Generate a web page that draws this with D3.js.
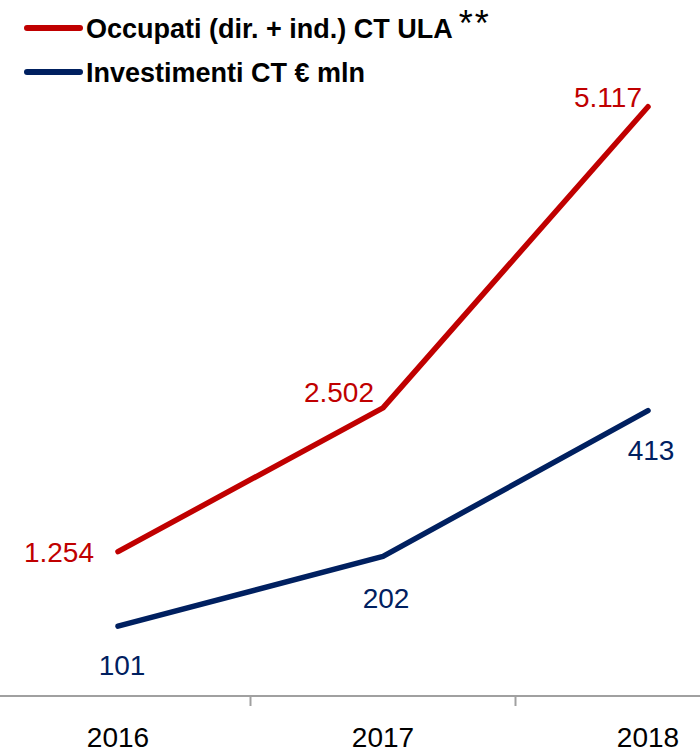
<!DOCTYPE html>
<html>
<head>
<meta charset="utf-8">
<script src="https://cdn.jsdelivr.net/npm/d3@7"></script>
<style>
  html, body { margin: 0; padding: 0; background: #fff; }
  svg { display: block; font-family: "Liberation Sans", Arial, sans-serif; }
</style>
</head>
<body>
<svg id="chart" width="700" height="755"></svg>
<script>
// ---- data ----
const years = ["2016", "2017", "2018"];
const occupati = [1254, 2502, 5117];      // Occupati (dir. + ind.) CT ULA
const investimenti = [101, 202, 413];     // Investimenti CT € mln
const seriesNames = ["Occupati (dir. + ind.) CT ULA", "Investimenti CT € mln"];
const seriesColors = ["#C00000", "#002060"];

const svg = d3.select("#chart");
const W = 700, H = 755;
const axisY = 696, plotTop = 5;

const it = d3.formatLocale({ decimal: ",", thousands: ".", grouping: [3], currency: ["€", ""] });
const fmt = it.format(",d");

const x = d3.scaleBand().domain(years).range([-14.5, 780.5]).paddingInner(0).paddingOuter(0);
const cx = d => x(d) + x.bandwidth() / 2;
const yRed = d3.scaleLinear().domain([0, 6000]).range([axisY, plotTop]);
const yBlue = d3.scaleLinear().domain([0, 1000]).range([axisY, plotTop]);

// ---- axis ----
svg.append("line").attr("x1", 0).attr("x2", W).attr("y1", axisY).attr("y2", axisY)
  .attr("stroke", "#A0A0A0").attr("stroke-width", 2);
svg.selectAll("line.tick").data(years.slice(1)).enter().append("line")
  .attr("class", "tick")
  .attr("x1", d => x(d)).attr("x2", d => x(d))
  .attr("y1", axisY).attr("y2", axisY + 10)
  .attr("stroke", "#A0A0A0").attr("stroke-width", 2);
svg.selectAll("text.year").data(years).enter().append("text")
  .attr("class", "year")
  .attr("x", d => cx(d)).attr("y", 747)
  .attr("text-anchor", "middle").attr("font-size", 28).attr("fill", "#000")
  .text(d => d);

// ---- lines ----
const redData = years.map((d, i) => ({ year: d, v: occupati[i] }));
const blueData = years.map((d, i) => ({ year: d, v: investimenti[i] }));

svg.append("path").datum(redData)
  .attr("d", d3.line().x(d => cx(d.year)).y(d => yRed(d.v)))
  .attr("fill", "none").attr("stroke", seriesColors[0]).attr("stroke-width", 5.5)
  .attr("stroke-linecap", "round").attr("stroke-linejoin", "round");
svg.append("path").datum(blueData)
  .attr("d", d3.line().x(d => cx(d.year)).y(d => yBlue(d.v)))
  .attr("fill", "none").attr("stroke", seriesColors[1]).attr("stroke-width", 5.5)
  .attr("stroke-linecap", "round").attr("stroke-linejoin", "round");

// ---- data labels ----
const redOffsets = [{ dx: -24, dy: 10, a: "end" }, { dx: -9, dy: -6, a: "end" }, { dx: -6, dy: 0, a: "end" }];
svg.selectAll("text.rl").data(redData).enter().append("text")
  .attr("class", "rl")
  .attr("x", (d, i) => cx(d.year) + redOffsets[i].dx)
  .attr("y", (d, i) => yRed(d.v) + redOffsets[i].dy)
  .attr("text-anchor", (d, i) => redOffsets[i].a)
  .attr("font-size", 28).attr("fill", seriesColors[0])
  .text(d => fmt(d.v));
const blueOffsets = [{ dx: 4, dy: 49 }, { dx: 3, dy: 52 }, { dx: 3, dy: 49 }];
svg.selectAll("text.bl").data(blueData).enter().append("text")
  .attr("class", "bl")
  .attr("x", (d, i) => cx(d.year) + blueOffsets[i].dx)
  .attr("y", (d, i) => yBlue(d.v) + blueOffsets[i].dy)
  .attr("text-anchor", "middle")
  .attr("font-size", 28).attr("fill", seriesColors[1])
  .text(d => fmt(d.v));

// ---- legend ----
const legY = [28, 72];
const leg = svg.selectAll("g.leg").data(seriesNames).enter().append("g")
  .attr("class", "leg").attr("transform", (d, i) => `translate(0,${legY[i]})`);
leg.append("line").attr("x1", 27).attr("x2", 80).attr("y1", 0).attr("y2", 0)
  .attr("stroke", (d, i) => seriesColors[i]).attr("stroke-width", 6).attr("stroke-linecap", "round");
const lt = leg.append("text").attr("x", 86).attr("y", 10)
  .attr("font-size", 27).attr("font-weight", "bold").attr("fill", "#000");
lt.append("tspan").text(d => d);
lt.filter((d, i) => i === 0).append("tspan")
  .attr("dx", 6).attr("dy", -2).attr("font-size", 36).attr("font-weight", "normal")
  .attr("letter-spacing", 2)
  .text("**");
</script>
</body>
</html>
